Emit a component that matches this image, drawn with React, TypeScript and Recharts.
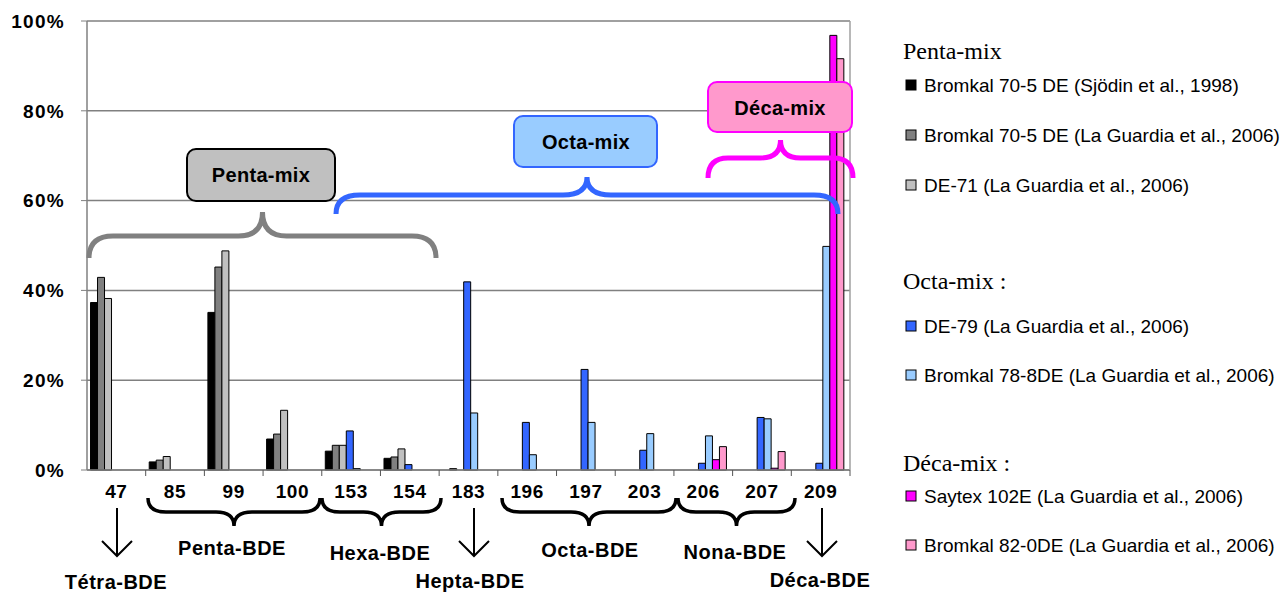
import { BarChart, Bar, CartesianGrid, XAxis, YAxis } from "recharts";

// PBDE congeners (x axis)
const congeners = ["47", "85", "99", "100", "153", "154", "183", "196", "197", "203", "206", "207", "209"];
const yTicks = [0, 20, 40, 60, 80, 100];

// % of each congener in the technical mixtures
const bromkal705Sjodin = [37.3, 1.8, 35.1, 6.9, 4.2, 2.6, 0, 0, 0, 0, 0, 0, 0];
const bromkal705LaGuardia = [42.9, 2.2, 45.2, 8.0, 5.5, 2.9, 0.3, 0, 0, 0, 0, 0, 0];
const de71 = [38.2, 3.0, 48.8, 13.3, 5.5, 4.7, 0, 0, 0, 0, 0, 0, 0];
const de79 = [0, 0, 0, 0, 8.7, 1.2, 41.9, 10.6, 22.4, 4.4, 1.5, 11.7, 1.5];
const bromkal788 = [0, 0, 0, 0, 0.3, 0, 12.7, 3.4, 10.6, 8.1, 7.6, 11.4, 49.8];
const saytex102 = [0, 0, 0, 0, 0, 0, 0, 0, 0, 0, 2.3, 0.4, 96.8];
const bromkal820 = [0, 0, 0, 0, 0, 0, 0, 0, 0, 0, 5.2, 4.1, 91.6];

const series = [
  { key: "s1", name: "Bromkal 70-5 DE (Sjödin et al., 1998)", color: "#000000", values: bromkal705Sjodin },
  { key: "s2", name: "Bromkal 70-5 DE (La Guardia et al., 2006)", color: "#808080", values: bromkal705LaGuardia },
  { key: "s3", name: "DE-71 (La Guardia et al., 2006)", color: "#C0C0C0", values: de71 },
  { key: "s4", name: "DE-79 (La Guardia et al., 2006)", color: "#3366FF", values: de79 },
  { key: "s5", name: "Bromkal 78-8DE (La Guardia et al., 2006)", color: "#99CCFF", values: bromkal788 },
  { key: "s6", name: "Saytex 102E (La Guardia et al., 2006)", color: "#FF00FF", values: saytex102 },
  { key: "s7", name: "Bromkal 82-0DE (La Guardia et al., 2006)", color: "#FF99CC", values: bromkal820 },
];

const legendGroups = [
  { title: "Penta-mix", y: 51, items: [0, 1, 2], itemY: [85, 135, 185] },
  { title: "Octa-mix :", y: 281, items: [3, 4], itemY: [326, 375] },
  { title: "Déca-mix :", y: 463, items: [5, 6], itemY: [496, 545] },
];

const data = congeners.map((c, i) => {
  const row: Record<string, string | number> = { name: c };
  series.forEach((s) => (row[s.key] = s.values[i]));
  return row;
});

const W = 1283;
const H = 594;
const LEFT = 87;
const RIGHT = 850;
const TOP = 21;
const BOTTOM = 470;
const BAND = (RIGHT - LEFT) / congeners.length;
const SANS = "'Liberation Sans', Arial, sans-serif";
const SERIF = "'Liberation Serif', 'Times New Roman', serif";

// curly brace between x1 and x2: ends at yEnd, straight part at yLine, cusp at yTip
function brace(x1: number, x2: number, yEnd: number, yLine: number, yTip: number, r: number) {
  const m = (x1 + x2) / 2;
  return `M ${x1} ${yEnd} Q ${x1} ${yLine} ${x1 + r} ${yLine} L ${m - r} ${yLine} Q ${m} ${yLine} ${m} ${yTip} Q ${m} ${yLine} ${m + r} ${yLine} L ${x2 - r} ${yLine} Q ${x2} ${yLine} ${x2} ${yEnd}`;
}

function Arrow({ x }: { x: number }) {
  return (
    <g stroke="#000" strokeWidth={2} fill="none">
      <line x1={x} y1={508} x2={x} y2={556} />
      <polyline points={`${x - 15},${541} ${x},${556} ${x + 15},${541}`} />
    </g>
  );
}

function Overlay() {
  const label = {
    fontFamily: SANS,
    fontWeight: 700,
    fontSize: 20,
    letterSpacing: 0.5,
    textAnchor: "middle" as const,
    dominantBaseline: "central" as const,
  };
  return (
    <svg width={W} height={H} style={{ position: "absolute", left: 0, top: 0, pointerEvents: "none" }}>
      {/* plot frame right side */}
      <line x1={RIGHT} y1={TOP} x2={RIGHT} y2={BOTTOM} stroke="#A0A0A0" strokeWidth={1.5} />
      {/* category boundary ticks */}
      {congeners.map((_, i) => (
        <line key={i} x1={LEFT + (i + 1) * BAND} y1={BOTTOM} x2={LEFT + (i + 1) * BAND} y2={BOTTOM + 6} stroke="#555" strokeWidth={1} />
      ))}

      {/* upper braces */}
      <path d={brace(89, 436, 258, 236, 212, 24)} stroke="#808080" strokeWidth={5} fill="none" />
      <path d={brace(336, 838, 214, 195, 177, 24)} stroke="#3366FF" strokeWidth={5} fill="none" />
      <path d={brace(708, 853, 178, 158, 140, 20)} stroke="#FF00FF" strokeWidth={5} fill="none" />

      <rect x={187} y={149} width={148} height={52} rx={9} fill="#C0C0C0" stroke="#000" strokeWidth={2} />
      <text x={261} y={175} {...label} letterSpacing={0.3}>Penta-mix</text>
      <rect x={514} y={116} width={143} height={51} rx={9} fill="#99CCFF" stroke="#3366FF" strokeWidth={2} />
      <text x={586} y={142} {...label} letterSpacing={0.3}>Octa-mix</text>
      <rect x={708} y={82} width={144} height={50} rx={9} fill="#FF99CC" stroke="#FF00FF" strokeWidth={2} />
      <text x={780} y={108} {...label} letterSpacing={0.3}>Déca-mix</text>

      {/* lower braces */}
      <g stroke="#000" strokeWidth={3.5} fill="none">
        <path d={brace(148, 320, 498, 512, 526, 18)} />
        <path d={brace(322, 441, 498, 512, 526, 18)} />
        <path d={brace(502, 676, 498, 512, 526, 18)} />
        <path d={brace(678, 795, 498, 512, 526, 18)} />
      </g>
      <Arrow x={117} />
      <Arrow x={474} />
      <Arrow x={822} />
      <text x={232} y={548} {...label}>Penta-BDE</text>
      <text x={380} y={553} {...label}>Hexa-BDE</text>
      <text x={590} y={550} {...label}>Octa-BDE</text>
      <text x={735} y={552} {...label}>Nona-BDE</text>
      <text x={116} y={582} {...label}>Tétra-BDE</text>
      <text x={470} y={581} {...label}>Hepta-BDE</text>
      <text x={820} y={580} {...label}>Déca-BDE</text>

      {/* legend */}
      {legendGroups.map((g) => (
        <g key={g.title}>
          <text x={903} y={g.y} fontFamily={SERIF} fontSize={24} dominantBaseline="central">{g.title}</text>
          {g.items.map((idx, j) => (
            <g key={idx}>
              <rect x={906} y={g.itemY[j] - 5} width={10} height={10} fill={series[idx].color} stroke="#000" strokeWidth={1} />
              <text x={924} y={g.itemY[j]} fontFamily={SANS} fontSize={19} dominantBaseline="central">{series[idx].name}</text>
            </g>
          ))}
        </g>
      ))}
    </svg>
  );
}

export default function App() {
  return (
    <div style={{ position: "absolute", left: 0, top: 0, width: W, height: H, background: "#fff" }}>
      <BarChart
        width={W}
        height={H}
        data={data}
        margin={{ top: TOP, right: W - RIGHT, bottom: H - BOTTOM - 30, left: 0 }}
        barCategoryGap="6%"
        barGap={0}
      >
        <CartesianGrid vertical={false} stroke="#808080" strokeWidth={1.5} />
        <XAxis
          dataKey="name"
          height={30}
          tickLine={false}
          axisLine={{ stroke: "#808080", strokeWidth: 1.5 }}
          interval={0}
          tickMargin={9}
          tick={{ fill: "#000", fontFamily: SANS, fontWeight: 700, fontSize: 19, letterSpacing: 0.6 }}
        />
        <YAxis
          width={LEFT}
          domain={[0, 100]}
          ticks={yTicks}
          tickFormatter={(v: number) => `${v}%`}
          tickSize={6}
          tickMargin={16}
          axisLine={{ stroke: "#808080", strokeWidth: 1.5 }}
          tickLine={{ stroke: "#808080" }}
          tick={{ fill: "#000", fontFamily: SANS, fontWeight: 700, fontSize: 19, letterSpacing: 1.3 }}
        />
        {series.map((s) => (
          <Bar key={s.key} dataKey={s.key} name={s.name} fill={s.color} stroke="#000" strokeWidth={1} isAnimationActive={false} />
        ))}
      </BarChart>
      <Overlay />
    </div>
  );
}
